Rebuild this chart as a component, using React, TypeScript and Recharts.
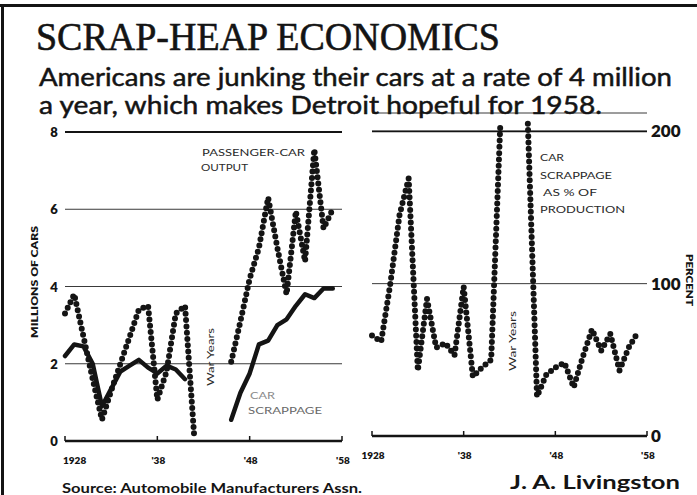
import React from 'react';
import { LineChart, Line, XAxis, YAxis, CartesianGrid, ReferenceLine } from 'recharts';

// ---------- data ----------
const years = [
  1928, 1929, 1930, 1931, 1932, 1933, 1934, 1935, 1936, 1937,
  1938, 1939, 1940, 1941, 1942, 1943, 1944, 1945, 1946, 1947,
  1948, 1949, 1950, 1951, 1952, 1953, 1954, 1955, 1956, 1957,
];
// Passenger-car output, millions (war years blank)
const carOutput = [
  3.3, 3.8, 2.7, 1.6, 0.55, 1.3, 2.0, 2.7, 3.4, 3.5,
  1.07, 1.8, 3.3, 3.5, 0.1, null, null, null, 2.05, 3.1,
  4.2, 5.0, 6.3, 5.0, 3.8, 5.95, 4.65, 7.55, 5.5, 6.0,
];
// Car scrappage, millions
const carScrappage = [
  2.2, 2.5, 2.45, 2.0, 0.9, 1.35, 1.8, 1.95, 2.1, 1.9,
  1.75, 1.95, 1.85, 1.6, null, null, null, null, 0.55, 1.25,
  1.75, 2.5, 2.6, 3.0, 3.15, 3.5, 3.8, 3.7, 3.95, 3.95,
];
// Car scrappage as % of production
const scrappagePct = [
  66, 62, 100, 145, 169, 43, 90, 58, 61, 53,
  98, 39, 45, 50, 205, null, null, 205, 26, 40,
  45, 48, 32, 52, 70, 56, 67, 43, 58, 68,
];
const leftYTicks = [0, 2, 4, 6, 8];
const rightYTicks = [0, 100, 200];
const xTicks = [1928, 1938, 1948, 1958];
const xTickLabels = ['1928', "'38", "'48", "'58"];

const leftData = years.map((y, i) => ({ year: y, output: carOutput[i], scrap: carScrappage[i] }));
const rightData = years.map((y, i) => ({ year: y, pct: scrappagePct[i] }));

const INK = '#141414';
const SANS = 'Lato, "Open Sans", sans-serif';

const labelFor = (v: number) => xTickLabels[xTicks.indexOf(v)] ?? String(v);

const makeXTick = (firstStart: boolean) => (props: any) => {
  const { x, y, payload, index } = props;
  const first = firstStart && index === 0;
  return (
    <g>
      <line x1={x} x2={x} y1={y} y2={y - 5} stroke={INK} strokeWidth={1.5} />
      <text
        x={first ? x - 2 : x + 1}
        y={y + 23}
        textAnchor={first ? 'start' : 'middle'}
        fontFamily={SANS}
        fontWeight={800}
        fontSize={10}
        fill={INK}
      >
        {labelFor(payload.value)}
      </text>
    </g>
  );
};

const LeftYTick = (props: any) => {
  const { x, y, payload } = props;
  return (
    <text x={x - 11} y={y + 5} textAnchor="middle" fontFamily={SANS} fontWeight={800} fontSize={13} fill={INK}>
      {payload.value}
    </text>
  );
};

const RightYTick = (props: any) => {
  const { x, y, payload } = props;
  return (
    <text x={x + 4} y={y + 6} textAnchor="start" fontFamily={SANS} fontWeight={800} fontSize={17} fill={INK}>
      {payload.value}
    </text>
  );
};

const dotted = { strokeWidth: 6, strokeDasharray: '0 6.3', strokeLinecap: 'round' as const, strokeLinejoin: 'round' as const };

export default function App() {
  return (
    <div style={{ position: 'absolute', left: 0, top: 0, width: 697, height: 495, background: '#fff', overflow: 'hidden' }}>
      {/* Left panel: millions of cars */}
      <div style={{ position: 'absolute', left: 0, top: 0 }}>
        <LineChart width={360} height={495} data={leftData} margin={{ top: 132, right: 18, bottom: 24, left: 40 }}>
          <CartesianGrid vertical={false} stroke="#3a3a3a" strokeWidth={1} />
          <XAxis
            dataKey="year"
            type="number"
            domain={[1928, 1958]}
            ticks={xTicks}
            interval={0}
            height={30}
            tickSize={0}
            tickMargin={0}
            tickLine={false}
            axisLine={{ stroke: INK, strokeWidth: 2.5 }}
            tick={makeXTick(true)}
          />
          <YAxis
            domain={[0, 8]}
            ticks={leftYTicks}
            width={25}
            tickSize={0}
            tickMargin={0}
            tickLine={false}
            axisLine={false}
            tick={LeftYTick}
          />
          <ReferenceLine y={8} stroke={INK} strokeWidth={2} />
          <Line dataKey="scrap" type="linear" stroke={INK} strokeWidth={4.5} strokeLinejoin="round" strokeLinecap="round" dot={false} connectNulls={false} isAnimationActive={false} />
          <Line dataKey="output" type="linear" stroke={INK} {...dotted} dot={false} connectNulls={false} isAnimationActive={false} />
        </LineChart>
      </div>

      {/* Right panel: scrappage as % of production */}
      <div style={{ position: 'absolute', left: 360, top: 0 }}>
        <LineChart width={337} height={495} data={rightData} margin={{ top: 113, right: 0, bottom: 29, left: 12 }}>
          <CartesianGrid vertical={false} stroke="#3a3a3a" strokeWidth={1} />
          <XAxis
            dataKey="year"
            type="number"
            domain={[1928, 1958]}
            ticks={xTicks}
            interval={0}
            height={30}
            tickSize={0}
            tickMargin={0}
            tickLine={false}
            axisLine={{ stroke: INK, strokeWidth: 2.5 }}
            tick={makeXTick(false)}
          />
          <YAxis
            orientation="right"
            domain={[0, 212]}
            ticks={rightYTicks}
            width={50}
            tickSize={0}
            tickMargin={0}
            tickLine={false}
            axisLine={false}
            tick={RightYTick}
          />
          <ReferenceLine y={200} stroke={INK} strokeWidth={1.8} />
          <Line dataKey="pct" type="linear" stroke={INK} {...dotted} dot={false} connectNulls={false} isAnimationActive={false} />
        </LineChart>
      </div>

      {/* Titles, frame and annotations */}
      <svg width={697} height={495} style={{ position: 'absolute', left: 0, top: 0, pointerEvents: 'none' }}>
        <rect x={0} y={4} width={697} height={3} fill={INK} />
        <rect x={1} y={4} width={3} height={491} fill={INK} />

        <text x={36} y={50} fontFamily='"Liberation Serif", serif' fontSize={40} fill={INK} stroke={INK} strokeWidth={0.6} textLength={464} lengthAdjust="spacingAndGlyphs">
          SCRAP-HEAP ECONOMICS
        </text>
        <text x={39} y={86} fontFamily={SANS} fontWeight={400} fontSize={25} fill={INK} stroke={INK} strokeWidth={0.5} textLength={633} lengthAdjust="spacingAndGlyphs">
          Americans are junking their cars at a rate of 4 million
        </text>
        <text x={39} y={114} fontFamily={SANS} fontWeight={400} fontSize={25} fill={INK} stroke={INK} strokeWidth={0.5} textLength={563} lengthAdjust="spacingAndGlyphs">
          a year, which makes Detroit hopeful for 1958.
        </text>

        {/* left-axis title */}
        <text transform="translate(38,282) rotate(-90)" textAnchor="middle" fontFamily={SANS} fontWeight={800} fontSize={10} fill={INK} textLength={112} lengthAdjust="spacingAndGlyphs">
          MILLIONS OF CARS
        </text>
        {/* right-axis title */}
        <text transform="translate(686,280) rotate(90)" textAnchor="middle" fontFamily={SANS} fontWeight={800} fontSize={9} fill={INK} textLength={52} lengthAdjust="spacingAndGlyphs">
          PERCENT
        </text>

        {/* annotations */}
        <g fontFamily={SANS} fontSize={9} fill="#2a2a2a">
          <text x={202} y={156} textLength={103} lengthAdjust="spacingAndGlyphs">PASSENGER-CAR</text>
          <text x={201} y={171} textLength={47} lengthAdjust="spacingAndGlyphs">OUTPUT</text>
          <text x={250} y={399} fill="#8a8a8a" textLength={25} lengthAdjust="spacingAndGlyphs">CAR</text>
          <text x={248} y={414} fill="#6a6a6a" textLength={74} lengthAdjust="spacingAndGlyphs">SCRAPPAGE</text>
          <text x={540} y={161} textLength={24} lengthAdjust="spacingAndGlyphs">CAR</text>
          <text x={540} y={179} textLength={72} lengthAdjust="spacingAndGlyphs">SCRAPPAGE</text>
          <text x={543} y={196} textLength={54} lengthAdjust="spacingAndGlyphs">AS % OF</text>
          <text x={540} y={213} textLength={85} lengthAdjust="spacingAndGlyphs">PRODUCTION</text>
          <text transform="translate(214,357) rotate(-90)" textAnchor="middle" fontSize={10} textLength={58} lengthAdjust="spacingAndGlyphs">War Years</text>
          <text transform="translate(516,341) rotate(-90)" textAnchor="middle" fontSize={10} textLength={60} lengthAdjust="spacingAndGlyphs">War Years</text>
        </g>

        {/* footer */}
        <text x={62} y={493} fontFamily={SANS} fontWeight={700} fontSize={14} fill={INK} textLength={300} lengthAdjust="spacingAndGlyphs">
          Source: Automobile Manufacturers Assn.
        </text>
        <text x={510} y={489} fontFamily={SANS} fontWeight={700} fontSize={19} fill={INK} textLength={170} lengthAdjust="spacingAndGlyphs">
          J. A. Livingston
        </text>
      </svg>
    </div>
  );
}
